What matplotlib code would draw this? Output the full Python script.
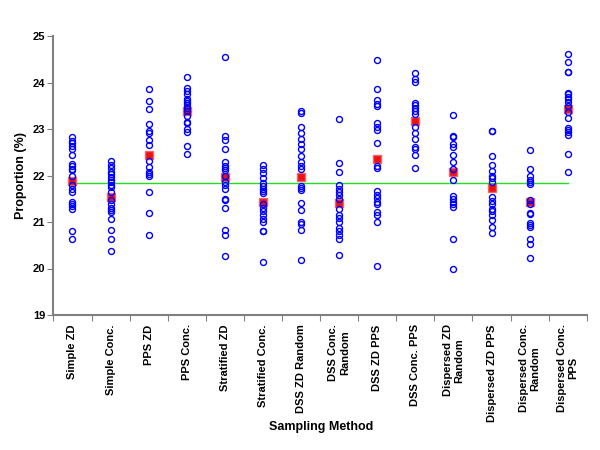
#!/usr/bin/env python3

import matplotlib
matplotlib.use("Agg")
import matplotlib.pyplot as plt

# Sampling methods (x axis)
methods = ["Simple ZD", "Simple Conc.", "PPS ZD", "PPS Conc.", "Stratified ZD",
           "Stratified Conc.", "DSS ZD Random", "DSS Conc.\nRandom", "DSS ZD PPS",
           "DSS Conc. PPS", "Dispersed ZD\nRandom", "Dispersed ZD PPS",
           "Dispersed Conc.\nRandom", "Dispersed Conc.\nPPS"]

# Sample estimates for each method (%)
simple_zd = [22.82, 22.75, 22.69, 22.63, 22.57, 22.45, 22.25, 22.20, 22.15, 22.12,
             21.98, 21.79, 21.72, 21.65, 21.44, 21.39, 21.34, 21.29, 20.81, 20.63]
simple_conc = [22.32, 22.22, 22.16, 22.08, 22.03, 21.96, 21.91, 21.86, 21.80, 21.75,
               21.64, 21.48, 21.39, 21.31, 21.26, 21.21, 21.06, 20.83, 20.63, 20.37]
pps_zd = [23.85, 23.61, 23.43, 23.10, 22.95, 22.92, 22.77, 22.66, 22.32, 22.18,
          22.08, 22.03, 21.99, 21.65, 21.19, 20.73]
pps_conc = [24.12, 23.89, 23.81, 23.76, 23.65, 23.61, 23.56, 23.51, 23.46, 23.38,
            23.29, 23.15, 23.12, 22.99, 22.94, 22.64, 22.47]
strat_zd = [24.55, 22.85, 22.76, 22.56, 22.30, 22.21, 22.16, 22.11, 22.00, 21.86,
            21.80, 21.72, 21.49, 21.47, 21.31, 20.82, 20.71, 20.26]
strat_conc = [22.22, 22.13, 22.06, 21.95, 21.84, 21.77, 21.72, 21.67, 21.62, 21.38,
              21.31, 21.24, 21.14, 21.07, 21.00, 20.81, 20.80, 20.15]
dss_zd_rand = [23.38, 23.35, 23.04, 22.92, 22.78, 22.68, 22.56, 22.42, 22.30, 22.21,
               22.15, 21.77, 21.73, 21.69, 21.40, 21.26, 20.99, 20.96, 20.83, 20.19]
dss_conc_rand = [23.21, 22.26, 22.08, 21.80, 21.72, 21.65, 21.59, 21.49, 21.29, 21.16,
                 21.08, 21.00, 20.88, 20.81, 20.72, 20.63, 20.28]
dss_zd_pps = [24.49, 23.85, 23.62, 23.54, 23.49, 23.13, 23.05, 22.97, 22.69, 22.21,
              22.16, 21.67, 21.59, 21.51, 21.44, 21.39, 21.21, 21.16, 21.00, 20.06]
dss_conc_pps = [24.20, 24.07, 24.02, 23.56, 23.51, 23.45, 23.38, 23.33, 23.04, 22.91,
                22.79, 22.61, 22.56, 22.44, 22.17]
disp_zd_rand = [23.30, 22.84, 22.83, 22.68, 22.61, 22.44, 22.28, 22.15, 21.90, 21.55,
                21.50, 21.44, 21.38, 21.32, 20.64, 20.00]
disp_zd_pps = [22.96, 22.95, 22.42, 22.22, 22.10, 22.00, 21.95, 21.87, 21.54, 21.45,
               21.38, 21.27, 21.24, 21.15, 21.04, 20.90, 20.76]
disp_conc_rand = [22.54, 22.13, 21.98, 21.90, 21.85, 21.82, 21.47, 21.39, 21.19, 21.17,
                  20.98, 20.93, 20.90, 20.64, 20.52, 20.22]
disp_conc_pps = [24.61, 24.44, 24.23, 24.22, 23.78, 23.76, 23.69, 23.64, 23.57, 23.49,
                 23.37, 23.23, 23.03, 22.98, 22.93, 22.87, 22.46, 22.08]

samples = [simple_zd, simple_conc, pps_zd, pps_conc, strat_zd, strat_conc,
           dss_zd_rand, dss_conc_rand, dss_zd_pps, dss_conc_pps, disp_zd_rand,
           disp_zd_pps, disp_conc_rand, disp_conc_pps]

# Mean of each method, as read from the red squares
means = [21.88, 21.54, 22.44, 23.38, 21.97, 21.44, 21.96, 21.40, 22.36, 23.18,
         22.08, 21.73, 21.42, 23.43]

# True population value
true_value = 21.84

def main():
    plt.rcParams["font.family"] = ["Liberation Sans", "DejaVu Sans"]
    fig = plt.figure(figsize=(6, 4.5), dpi=100)
    ax = fig.add_axes([0.089, 0.30, 0.889, 0.62])

    xs = list(range(1, len(methods) + 1))

    # Reference line from first to last method
    ax.plot([xs[0], xs[-1]], [true_value, true_value], color="#22dd22",
            linewidth=1, zorder=1)

    # Means
    ax.plot(xs, means, linestyle="none", marker="s", markersize=6,
            color="#ee1111", markeredgecolor="#ee6666", zorder=2)

    # Individual samples
    for x, vals in zip(xs, samples):
        ax.plot([x] * len(vals), vals, linestyle="none", marker="o",
                markersize=4.3, markerfacecolor="none", markeredgecolor="#0000ff",
                markeredgewidth=1, zorder=3)

    ax.set_xlim(0.5, len(methods) + 0.5)
    ax.set_ylim(19, 25)
    ax.set_yticks([19, 20, 21, 22, 23, 24, 25])
    ax.set_xticks([i + 0.5 for i in range(0, len(methods) + 1)])
    ax.set_xticklabels([])
    ax.tick_params(axis="both", direction="out", length=4, color="#808080",
                   labelsize=8, pad=2)
    for lbl in ax.get_yticklabels():
        lbl.set_fontweight("bold")

    for x, name in zip(xs, methods):
        ax.text(x, 18.8, name, rotation=90, ha="center", va="top",
                fontsize=8, fontweight="bold", multialignment="center")

    ax.spines["top"].set_visible(False)
    ax.spines["right"].set_visible(False)
    ax.spines["left"].set_color("#808080")
    ax.spines["bottom"].set_color("#808080")
    ax.spines["left"].set_linewidth(1.5)
    ax.spines["bottom"].set_linewidth(1.5)

    ax.set_ylabel("Proportion (%)", fontsize=9, fontweight="bold", labelpad=4)
    fig.text(0.535, 0.052, "Sampling Method", ha="center", va="center",
             fontsize=9, fontweight="bold")

    plt.savefig("out.png", dpi=100)

if __name__ == "__main__":
    main()
